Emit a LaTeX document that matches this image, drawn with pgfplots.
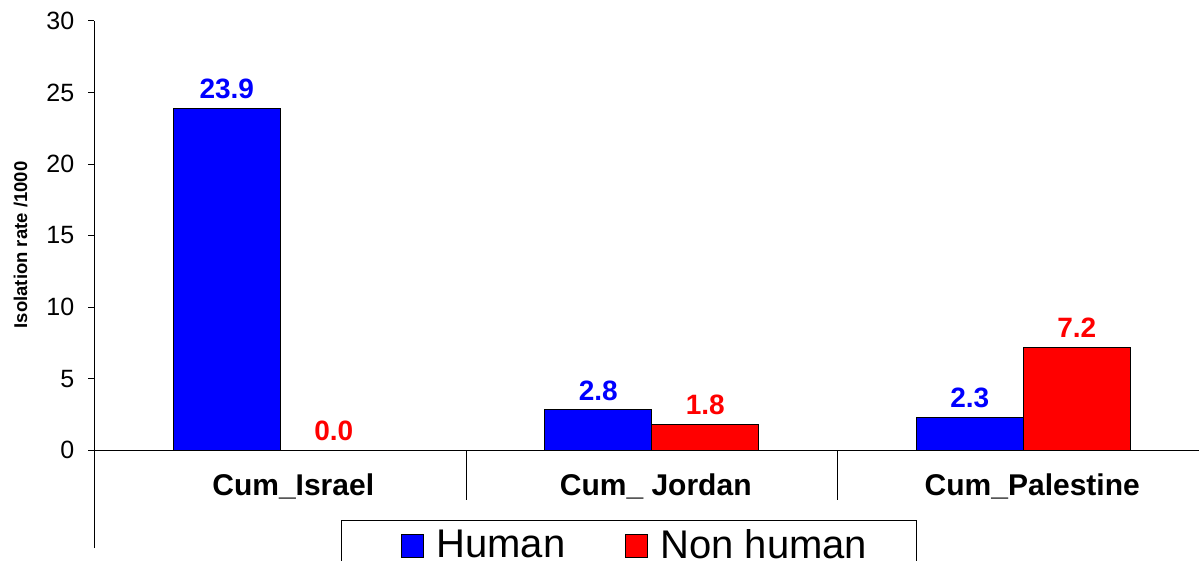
\documentclass[border=0pt]{standalone}
\usepackage{pgfplots}
\pgfplotsset{compat=1.18}
\usepackage{fontspec}
\setmainfont{Liberation Sans}
\definecolor{humanblue}{RGB}{0,0,255}
\definecolor{nonhumanred}{RGB}{255,0,0}

\begin{document}
\begin{tikzpicture}
\path[use as bounding box] (-94.5pt,-12pt) rectangle (1104.5pt,548pt);
\clip (-94.5pt,-12pt) rectangle (1104.5pt,548pt);
\begin{axis}[
  anchor=south west, at={(0pt,0pt)},
  scale only axis, width=1104.5pt, height=527pt,
  xmin=-0.5, xmax=2.473, ymin=-6.85, ymax=30,
  clip=false,
  axis y line=left, axis x line=middle,
  axis line style={-, black, line width=1pt},
  ybar=0pt, bar width=107pt,
  ytick={0,5,...,30},
  tick align=outside, major tick length=6pt,
  ytick style={black, line width=1pt},
  yticklabel style={font=\fontsize{25}{30}\selectfont, anchor=east, inner sep=0pt, xshift=-14pt},
  xtick={0,1,2},
  xticklabels={\hspace*{26pt}Cum\_Israel, \hspace*{8pt}Cum\_ Jordan, \hspace*{18pt}Cum\_Palestine},
  xtick style={draw=none},
  xticklabel style={font=\bfseries\fontsize{30}{36}\selectfont, anchor=base, inner sep=0pt, yshift=-39pt},
  /pgf/number format/assume math mode=true,
  ylabel={Isolation rate /1000},
  every axis y label/.style={at={(axis description cs:-0.067,0.575)}, rotate=90, anchor=center,
    font=\bfseries\fontsize{18.5}{22}\selectfont},
  nodes near coords={\pgfmathprintnumber[fixed,fixed zerofill,precision=1,assume math mode=true]{\pgfplotspointmeta}},
  every node near coord/.append style={font=\bfseries\fontsize{28}{34}\selectfont, anchor=south, inner sep=0pt, yshift=9pt},
  legend columns=-1,
  legend style={at={(axis description cs:0.2236,0.0531)}, anchor=north west,
    draw=black, line width=1pt, font=\fontsize{40}{48}\selectfont,
    inner xsep=49.5pt, inner ysep=9pt, nodes={inner sep=0pt},
    /tikz/every odd column/.append style={column sep=12pt},
    /tikz/every even column/.append style={column sep=50pt}},
  legend image code/.code={\path (0pt,0pt);
    \draw[#1, line width=1pt] (10pt,-12.5pt) rectangle (32pt,10pt);},
]
\addplot[fill=humanblue, draw=black, line width=1pt,
  every node near coord/.append style={text=humanblue}]
  coordinates {(0,23.9) (1,2.8) (2,2.3)};
\addlegendentry{Human}
\addplot[fill=nonhumanred, draw=black, line width=1pt,
  every node near coord/.append style={text=nonhumanred}]
  coordinates {(0,0.0) (1,1.8) (2,7.2)};
\addlegendentry{Non human}
% category separators below the baseline
\draw[black, line width=1pt] (axis cs:0.5,0) -- ++(0pt,-50pt);
\draw[black, line width=1pt] (axis cs:1.5,0) -- ++(0pt,-50pt);
\end{axis}
\end{tikzpicture}
\end{document}
